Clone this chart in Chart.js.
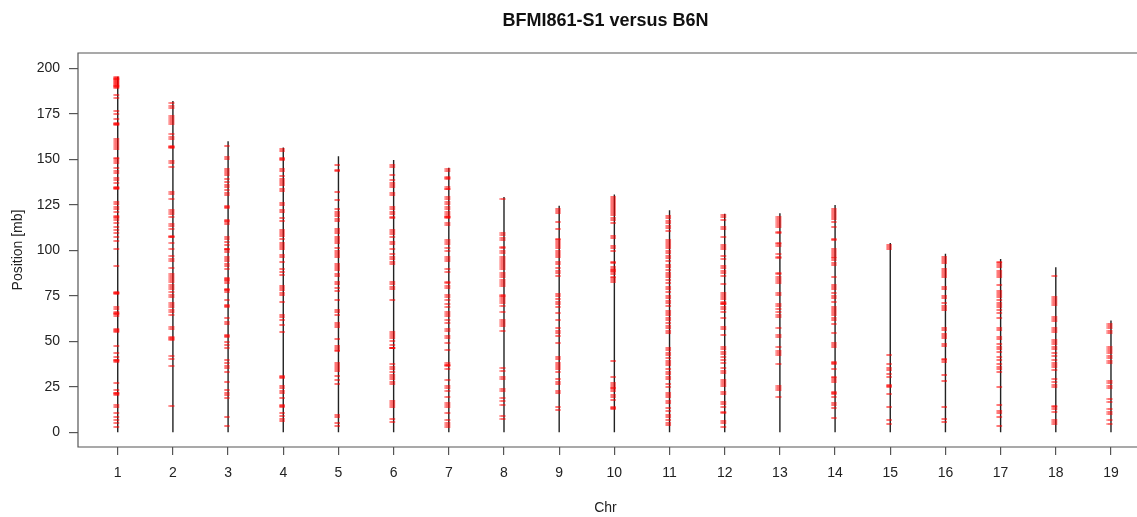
<!DOCTYPE html>
<html>
<head>
<meta charset="utf-8">
<script src="https://cdn.jsdelivr.net/npm/chart.js@4.4.1/dist/chart.umd.min.js"></script>
<style>
  html, body { margin: 0; padding: 0; background: #ffffff; overflow: hidden; }
  #wrap { position: relative; width: 1137px; height: 517px; }
</style>
</head>
<body>
<div id="wrap"><canvas id="c"></canvas></div>
<script>
// ---- data (positions in Mb) ----
const chromosomes = [1,2,3,4,5,6,7,8,9,10,11,12,13,14,15,16,17,18,19];
const chrLengthsMb = [195.5,182.1,160.0,156.5,151.8,149.7,145.4,129.4,124.6,130.7,122.1,120.1,120.4,124.9,104.0,98.2,95.3,90.7,61.4];
const yTickValues = [0,25,50,75,100,125,150,175,200];

const variantsChr1 = [195.4,194.8,194.3,194,193.5,193.2,192.5,192,191.5,190.9,190.5,190.2,189.8,189.3,185.3,183.5,176.7,175,172.3,169.8,169.4,169.2,168.7,161,160,159,158,157,155.7,151,150,149,148,145.4,143.8,142.3,140,138.6,136.8,135,134.5,134.2,133.9,126.7,125.5,124,122.5,121,118.9,118.2,117.8,116.7,114.8,113,111,109.3,107.5,105.3,101,91.4,77.3,76.8,76.5,76,69,68,66.3,65.6,65.2,65,63.9,56.6,56.1,55.9,55.3,47.4,43.4,41.6,40,39.6,39.3,38.6,27.3,23.3,21.8,21.5,21.2,20.7,15,13.7,10.4,8.6,6.8,5.3,3.1];
const variantsChr2 = [180.8,179.5,178.4,173.8,172.7,171.6,170.5,169.4,163.9,162.5,161,157.3,156.9,156.7,156.2,149.3,147.8,145.6,132.2,131,128,122.2,121,120,118.5,114.5,113.4,112,107.9,107.5,107.1,104.2,100.5,96.9,95.4,94.3,90.1,87,85.9,84.8,83.7,82.6,81.1,80,78.9,77.1,75.6,74.5,70.9,69.8,68.7,67.2,66.1,64.7,57.7,56.6,52.6,51.6,51.1,50.8,41.9,40.5,36.4,14.5];
const variantsChr3 = [157.3,151.1,150.4,145,143.8,142.7,141.2,139,137.5,135.9,134.6,133.2,131.7,130.4,124.4,123.8,123.3,116.7,116.1,115.6,114.5,107.5,106,104.6,103.1,101,100.6,100.2,99.1,96.2,95,94,92.5,91.4,89.6,84.6,84,83.6,83.3,82.2,78.6,78.2,78,77.3,72.7,70,69.4,68.7,62.6,60.8,59.5,53.5,53,52.6,49.8,48,46.2,39.7,37.9,36.4,35.2,33.3,27.8,23.3,21.8,20.7,18.7,8.2,3.5];
const variantsChr4 = [155.5,154.4,150.7,150.1,149.6,145,143.7,140.7,139.5,138.2,137.1,135.8,134,132.7,126.2,125,122.1,121,117.6,116.3,111.2,110.2,108.9,107.8,106.5,103.8,102.7,101.6,100.5,97.4,96.1,93.8,89.5,88.2,86.4,80.3,79.2,78.2,76.7,75.6,71.6,64.4,63.2,61.7,59,55.1,31,30.4,29.8,25.4,24.2,22.9,21.4,18.7,14.8,14.2,13.7,10.4,9,7.5,6.4];
const variantsChr5 = [147,144.3,143.7,132,127.6,122.9,121.2,119.9,118.8,117.5,116.2,111.9,110.8,109.7,107.1,106,104.9,103.8,101.1,99.8,98.7,97.4,96.1,92.5,91.4,90.3,89.2,87,85.9,82.8,81.5,79.1,77.8,72.7,67.2,66.1,64.3,59.9,58.8,57.7,51.4,47.4,46.1,45.5,44.8,38.2,37.1,36,34.9,33.8,30.9,28.7,26.5,9.5,8.2,4.9,3.5];
const variantsChr6 = [146.8,145.6,141.4,138.6,137.2,135.9,134.6,131.3,130.2,124,122.5,121.2,119.9,118.5,117.6,111.2,110,108.9,107.5,104.7,103.4,100.5,98,96.5,95,93.7,92.5,82.7,81.5,80,78.5,72.7,55,54,52.9,51.6,50.3,47.9,46.6,46.3,46.1,37.5,36,34.6,33.3,31.5,30.2,29.1,27.8,26.5,17.4,16.3,14.8,13.7,7.1,5.8];
const variantsChr7 = [145,143.7,140.5,139.9,139.3,134.6,134,133.5,129.4,128,126.7,125.4,124,122.5,121.2,119.9,118.9,118.5,118.2,117.6,114.8,113.7,105.6,104.5,103.4,101.1,99.8,96.5,95.4,94.3,89.5,88.2,82.7,81.8,80.4,79.1,75.4,74.1,72.7,70.5,69,66.3,65,63.9,61.7,60.2,56.9,55.8,52.9,51.6,48.9,45.2,37.9,37.2,36.8,36.4,34.9,28.7,25.4,24.2,22.9,19.6,16,14.8,13.7,10.8,6.8,5.3,3.8,2.7];
const variantsChr8 = [128,109.5,108.2,107,105.9,102,101.1,99.8,98.7,96.5,95.4,94.3,93.2,91.9,90.6,89.5,87.7,86.4,85.1,83.7,82.6,81.5,80.4,75.4,74.9,74.5,73.4,72.3,70.9,69.4,66.3,61.7,60.8,59.5,58.4,55.8,35.1,33.9,30.2,29.1,23.6,22.9,18.7,17.4,14.8,8.9,7.1];
const variantsChr9 = [122.5,121.4,120.3,115.7,111.5,106.5,105.6,104.5,103.4,102.3,101.1,99.8,98.7,97.6,96.5,93.7,92.5,90.1,88.8,87.4,85.9,76,74.9,73.1,71.8,70.5,69,65.7,62,57.1,55.8,54.7,52.9,48.9,41.5,40.4,38.2,37,35.7,34.6,33.3,29.1,27.8,26.5,22.9,21.8,14.1,12.3];
const variantsChr10 = [129.5,128.4,127.3,126.2,125.1,124,122.9,121.8,120.7,119.6,117.6,116.7,115.2,107.9,106.8,102.3,101.1,99.8,93.7,92.8,90.6,89.5,89.1,88.8,88.2,86.9,85.4,84.6,83.9,82.5,39.3,30.5,27.3,26,24.7,24.2,23.6,22.5,20.5,19.2,17.7,14.1,13.4,12.6];
const variantsChr11 = [118.8,117.6,116.3,114.8,113.4,112.1,110.8,105.7,104.6,103.4,102.3,101.1,99.8,98.3,96.9,95.6,94.3,91.9,90.6,89.2,87.7,86.4,85.1,83.7,82.2,79.7,78.6,77.3,74.9,73.6,72.3,70.9,69.4,66.8,65.7,64.4,63.1,61.7,59.9,58.7,57.1,55.8,54.4,46.1,45.2,43.8,42.5,40.6,39.3,37.9,36.8,34.6,33.3,32,30.5,29.1,26.5,25.1,21.4,20.5,19.2,17.4,15.9,13.1,11.9,9.5,8.2,6.8,5.3,4];
const variantsChr12 = [119.4,118.1,116.7,113,111.5,107.1,102.9,101.6,100.5,96.9,95.4,91.4,90.1,88.8,87.4,85.9,81.5,76.4,75.5,74.2,73.1,71.8,71.2,70.8,70.5,69,67.6,66.1,63.1,58,56.9,53.5,46.7,45.6,44.3,43,41.5,39.7,38.2,35.1,33.9,32.4,28.7,27.6,26.5,25.4,22.1,21,16.8,15.5,14.1,11.4,10.4,6.4,5.3,3.1];
const variantsChr13 = [118.1,117,115.9,114.8,113.7,112.6,110.2,109.3,104.3,103.5,102.4,97.9,96.5,95.6,87.8,86.8,85.3,84.2,83.1,82,76.6,75.5,70.6,69.7,67.9,66.1,64.6,63.3,57.6,53.5,52.2,47,44.8,43.7,42.6,37.5,25.4,24.3,23.2,19.6];
const variantsChr14 = [123,121.8,120.7,119.6,118.5,117,115.8,113,106.5,105.8,101,99.8,98.7,97.4,96.5,95.6,94.7,93.2,91.9,85.5,80.9,80,78.6,76.4,74.9,73.6,71.8,69,67.9,66.8,65.7,64.4,63.1,62,59.8,54.4,49.2,48,46.7,38.7,38.1,37.6,34.9,30.3,29.6,29,27.9,22.1,21.4,20.8,19.6,16.3,14.8,13.5,7.7];
const variantsChr15 = [103,102,100.9,42.5,37.5,35.1,34.2,32,30.6,26,25.5,25,21,14.1,6.8,4.4];
const variantsChr16 = [96.5,95.4,94.3,93.2,89.9,88.8,87.7,86.4,85.2,79.6,78.5,75,73.6,70.9,69.7,68.6,67.5,57.1,56.2,54,52.9,51.6,48.5,47.4,40.1,39.5,38.8,31.5,28.4,14.1,7.1,5.8];
const variantsChr17 = [93.7,92.8,91.7,90.6,88.8,87.7,86.4,85.2,80.9,77.8,76.7,75.5,74.2,72.8,71.2,70,68.7,67.2,65.7,62.6,57.1,56.2,52.5,51.4,48.5,47,45.6,44.3,41.2,39.7,37.5,36,34.6,33.3,25,15,11.9,10.8,8.6,3.5];
const variantsChr18 = [85.9,74.5,73.4,72.3,71.2,69.9,63.5,62.4,61.3,57.1,56.2,55.3,50.7,49.8,48.5,47,45.6,43.4,41.9,39.7,38.3,37,35.7,34.2,29.1,27.8,26,24.7,14.5,13.7,12.6,11.3,6.8,5.6,4.6];
const variantsChr19 = [59.5,58.4,57.1,55.8,54.4,47,45.9,44.8,43.4,41.9,40.6,39.3,37.9,28.4,26.9,25.4,24.2,18.1,16.8,12.6,11.3,10.1,6.8,4.6];

const variantsByChr = [variantsChr1,variantsChr2,variantsChr3,variantsChr4,variantsChr5,variantsChr6,variantsChr7,variantsChr8,variantsChr9,variantsChr10,variantsChr11,variantsChr12,variantsChr13,variantsChr14,variantsChr15,variantsChr16,variantsChr17,variantsChr18,variantsChr19];

// ---- build datasets from the arrays ----
const markerPoints = [];
chromosomes.forEach((chr, i) => {
  variantsByChr[i].forEach(pos => markerPoints.push({x: chr, y: pos}));
});
const chrLinePoints = [];
chromosomes.forEach((chr, i) => {
  chrLinePoints.push({x: chr, y: 0});
  chrLinePoints.push({x: chr, y: chrLengthsMb[i]});
  chrLinePoints.push({x: chr, y: null});
});

// dash glyph (like R's "-" symbol, sitting slightly left of the point)
const dash = document.createElement('canvas');
dash.width = 9; dash.height = 2;
(function () {
  const g = dash.getContext('2d');
  g.fillStyle = 'rgba(255,0,0,0.55)';
  g.fillRect(0.5, 0, 5.5, 2);
})();

const FONT = "'Liberation Sans', Arial, Helvetica, sans-serif";
const AXIS_COLOR = '#555555';

const framePlugin = {
  id: 'frame',
  afterDraw(chart) {
    const {ctx, chartArea: a} = chart;
    ctx.save();
    ctx.strokeStyle = AXIS_COLOR;
    ctx.lineWidth = 1.2;
    ctx.beginPath();
    ctx.moveTo(a.right + 30, a.top);
    ctx.lineTo(a.left, a.top);
    ctx.lineTo(a.left, a.bottom);
    ctx.lineTo(a.right + 30, a.bottom);
    ctx.stroke();
    ctx.restore();
  }
};

new Chart(document.getElementById('c'), {
  type: 'scatter',
  data: {
    datasets: [
      {
        label: 'variants',
        data: markerPoints,
        pointStyle: dash,
        pointRadius: 3,
        pointHoverRadius: 3,
        borderColor: 'rgba(255,0,0,0.55)',
        backgroundColor: 'rgba(255,0,0,0.55)',
        order: 0
      },
      {
        label: 'chromosomes',
        data: chrLinePoints,
        showLine: true,
        spanGaps: false,
        borderColor: '#222222',
        borderWidth: 1.4,
        pointRadius: 0,
        order: 1
      }
    ]
  },
  options: {
    responsive: true,
    maintainAspectRatio: false,
    animation: false,
    events: [],
    layout: { padding: 0 },
    plugins: {
      legend: { display: false },
      tooltip: { enabled: false },
      title: {
        display: true,
        text: 'BFMI861-S1 versus B6N',
        fullSize: false,
        color: '#111111',
        font: { family: FONT, size: 18, weight: 'bold' },
        padding: { top: 10, bottom: 21.4 }
      }
    },
    scales: {
      x: {
        type: 'linear',
        min: 0.28,
        max: 19.399,
        afterBuildTicks(scale) { scale.ticks = chromosomes.map(v => ({value: v})); },
        afterFit(scale) { scale.height = 70; scale.paddingLeft = 0; scale.paddingRight = 0; },
        border: { display: false },
        grid: { display: true, drawOnChartArea: false, drawTicks: true, tickLength: 8, color: AXIS_COLOR, lineWidth: 1.2 },
        ticks: { color: '#222222', font: { family: FONT, size: 14 }, padding: 10, maxRotation: 0, autoSkip: false },
        title: { display: true, text: 'Chr', color: '#222222', font: { family: FONT, size: 14 }, padding: { top: 0, bottom: 0 } }
      },
      y: {
        type: 'linear',
        min: -8.08,
        max: 208.5,
        afterBuildTicks(scale) { scale.ticks = yTickValues.map(v => ({value: v})); },
        afterFit(scale) { scale.width = 78; scale.paddingTop = 0; scale.paddingBottom = 0; },
        border: { display: false },
        grid: { display: true, drawOnChartArea: false, drawTicks: true, tickLength: 9, color: AXIS_COLOR, lineWidth: 1.2 },
        ticks: { color: '#222222', font: { family: FONT, size: 14 }, padding: 9, autoSkip: false },
        title: { display: true, text: 'Position [mb]', color: '#222222', font: { family: FONT, size: 14 }, padding: { top: 10, bottom: 0 } }
      }
    }
  },
  plugins: [framePlugin]
});
</script>
</body>
</html>
